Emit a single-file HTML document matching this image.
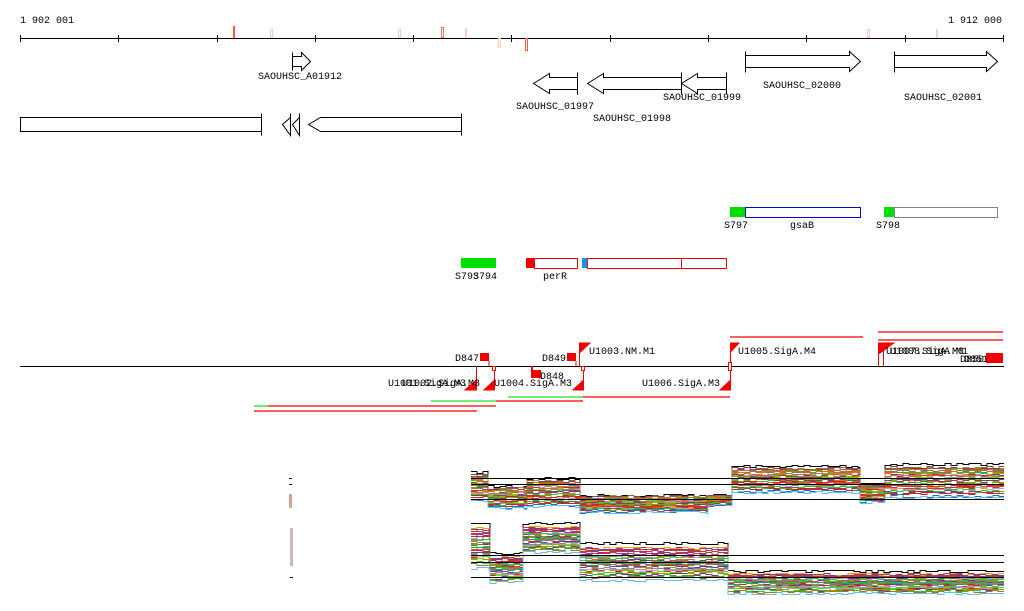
<!DOCTYPE html>
<html><head><meta charset="utf-8"><style>
html,body{margin:0;padding:0;background:#fff;}
svg{display:block;}
text{font-family:"Liberation Mono","DejaVu Sans Mono",monospace;font-size:10px;fill:#000;}
</style></head><body>
<svg id="s" width="1024" height="611" viewBox="0 0 1024 611" xmlns="http://www.w3.org/2000/svg">
<text x="20" y="23">1 902 001</text>
<text x="1002" y="23" text-anchor="end">1 912 000</text>
<line x1="20" y1="38.5" x2="1004" y2="38.5" stroke="#000" stroke-width="1"/>
<g stroke="#000" stroke-width="1">
<line x1="20.5" y1="35" x2="20.5" y2="42"/><line x1="118.5" y1="35" x2="118.5" y2="42"/><line x1="217.5" y1="35" x2="217.5" y2="42"/><line x1="315.5" y1="35" x2="315.5" y2="42"/><line x1="413.5" y1="35" x2="413.5" y2="42"/><line x1="511.5" y1="35" x2="511.5" y2="42"/><line x1="610.5" y1="35" x2="610.5" y2="42"/><line x1="708.5" y1="35" x2="708.5" y2="42"/><line x1="806.5" y1="35" x2="806.5" y2="42"/><line x1="905.5" y1="35" x2="905.5" y2="42"/><line x1="1003.5" y1="35" x2="1003.5" y2="42"/>
</g>
<rect x="233" y="26" width="2" height="12" fill="#f06040"/>
<rect x="270.5" y="29.5" width="2" height="8" fill="none" stroke="#f8c8b0"/>
<rect x="398.5" y="29.5" width="2" height="8" fill="none" stroke="#f8c8b0"/>
<rect x="441.5" y="27.5" width="2" height="10" fill="none" stroke="#e07060"/>
<rect x="465" y="28" width="2" height="10" fill="#f8d0c0"/>
<rect x="498.5" y="38.5" width="2" height="9" fill="none" stroke="#f8c8b0"/>
<rect x="525.5" y="38.5" width="2" height="12" fill="none" stroke="#f06040"/>
<rect x="867.5" y="29.5" width="2" height="8" fill="none" stroke="#f8c8b0"/>
<rect x="936" y="29" width="2" height="9" fill="#f8d0c0"/>

<g fill="#fff" stroke="#000" stroke-width="1">
<path d="M292.5 52.5 V70.5 M292.5 56.5 H301.5 V52.5 L310.5 61.5 L301.5 70.5 V66.5 H292.5"/>
<path d="M577.5 72.5 V94.5 M577.5 77.5 H549.5 V73.5 L533.5 83.5 L549.5 93.5 V89.5 H577.5"/>
<path d="M681.5 72.5 V94.5 M681.5 77.5 H603.5 V73.5 L587.5 83.5 L603.5 93.5 V89.5 H681.5"/>
<path d="M726.5 72.5 V94.5 M726.5 77.5 H697.5 V73.5 L681.5 83.5 L697.5 93.5 V89.5 H726.5"/>
<path d="M745.5 51.5 V72.5 M745.5 55.5 H849.5 V51.5 L860.5 61.5 L849.5 71.5 V67.5 H745.5"/>
<path d="M894.5 51.5 V72.5 M894.5 55.5 H986.5 V51.5 L997.5 61.5 L986.5 71.5 V67.5 H894.5"/>
<path d="M20.5 117.5 H261.5 V131.5 H20.5 Z M261.5 113.5 V135.5"/>
<path d="M290.5 113.5 V135.5 L282.5 124.5 L290.5 117.5 M299.5 113.5 V135.5 L292.5 124.5 L299.5 117.5"/>
<path d="M461.5 113.5 V135.5 M461.5 117.5 H320.5 L308.5 124.5 L320.5 131.5 H461.5"/>
</g>
<text x="300" y="79" text-anchor="middle">SAOUHSC_A01912</text>
<text x="555" y="109" text-anchor="middle">SAOUHSC_01997</text>
<text x="632" y="121" text-anchor="middle">SAOUHSC_01998</text>
<text x="702" y="100" text-anchor="middle">SAOUHSC_01999</text>
<text x="802" y="88" text-anchor="middle">SAOUHSC_02000</text>
<text x="943" y="100" text-anchor="middle">SAOUHSC_02001</text>

<rect x="730" y="207" width="15" height="10" fill="#00e000"/>
<rect x="745.5" y="207.5" width="115" height="10" fill="#fff" stroke="#0000e0"/>
<text x="724" y="228">S797</text><text x="802" y="228" text-anchor="middle">gsaB</text>
<rect x="884" y="207" width="10" height="10" fill="#00e000"/>
<rect x="894.5" y="207.5" width="103" height="10" fill="#fff" stroke="#808080"/>
<text x="876" y="228">S798</text>
<rect x="461" y="258" width="35" height="10" fill="#00e000"/>
<text x="455" y="279">S793</text><text x="473" y="279">S794</text>
<rect x="526" y="258" width="8" height="10" fill="#f00000"/>
<rect x="534.5" y="258.5" width="43" height="10" fill="#fff" stroke="#f00000"/>
<text x="555" y="279" text-anchor="middle">perR</text>
<rect x="582" y="258" width="5" height="10" fill="#1890f0"/>
<rect x="587.5" y="258.5" width="139" height="10" fill="#fff" stroke="#f00000"/>
<line x1="681.5" y1="258" x2="681.5" y2="268" stroke="#f00000"/>

<line x1="20" y1="366.5" x2="1004" y2="366.5" stroke="#000"/>
<g stroke="#f00000" stroke-width="1.3">
<line x1="730" y1="337" x2="863" y2="337"/>
<line x1="878" y1="332" x2="1003" y2="332"/>
<line x1="878" y1="340" x2="1003" y2="340"/>
</g>
<g fill="#f00000" stroke="#f00000">
<rect x="480" y="353" width="9" height="8" stroke="none"/><line x1="489" y1="361" x2="489" y2="366"/>
<rect x="567" y="353" width="9" height="8" stroke="none"/><line x1="576" y1="361" x2="576" y2="366"/>
<rect x="531" y="370" width="10" height="8" stroke="none"/><rect x="531" y="366" width="2" height="6" stroke="none"/>
<line x1="579.5" y1="343" x2="579.5" y2="366"/><path d="M579.5 343 H590 L579.5 353Z"/>
<line x1="730.5" y1="343" x2="730.5" y2="366"/><path d="M730.5 343 H739 L730.5 352Z"/>
<line x1="878.5" y1="343" x2="878.5" y2="366"/><line x1="883.5" y1="343" x2="883.5" y2="366"/><path d="M878.5 343 H894 L878.5 354Z"/>
<rect x="986" y="353" width="17" height="10" stroke="none"/>
<line x1="476.5" y1="366" x2="476.5" y2="390"/><path d="M465 390 H476.5 V380Z"/>
<line x1="494.5" y1="366" x2="494.5" y2="390"/><path d="M484 390 H494.5 V380Z"/>
<line x1="583.5" y1="366" x2="583.5" y2="390"/><path d="M573 390 H583.5 V380Z"/>
<line x1="730.5" y1="366" x2="730.5" y2="390"/><path d="M720 390 H730.5 V380Z"/>
</g>
<rect x="492.5" y="366.5" width="3" height="4" fill="#fff" stroke="#f00000"/>
<rect x="581.5" y="366.5" width="3" height="4" fill="#fff" stroke="#f00000"/>
<rect x="728.5" y="362.5" width="3" height="8" fill="#fff" stroke="#f00000"/>
<text x="479" y="361" text-anchor="end">D847</text>
<text x="566" y="361" text-anchor="end">D849</text>
<text x="540" y="379">D848</text>
<text x="589" y="354">U1003.NM.M1</text>
<text x="738" y="354">U1005.SigA.M4</text>
<text x="886" y="354">U1007.SigA.M3</text>
<text x="890" y="354">U1008.SigA.M1</text>
<text x="960" y="362">D850</text><text x="964" y="362">D851</text>
<text x="388" y="386">U1001.SigA.M3</text>
<text x="402" y="386">U1002.SigA.M3</text>
<text x="494" y="386">U1004.SigA.M3</text>
<text x="642" y="386">U1006.SigA.M3</text>
<g stroke-width="1.3">
<line x1="508" y1="397" x2="583" y2="397" stroke="#20e020"/><line x1="583" y1="397" x2="730" y2="397" stroke="#f00000"/>
<line x1="431" y1="401" x2="496" y2="401" stroke="#20e020"/><line x1="496" y1="401" x2="583" y2="401" stroke="#f00000"/>
<line x1="254" y1="406" x2="268" y2="406" stroke="#20e020"/><line x1="268" y1="406" x2="496" y2="406" stroke="#f00000"/>
<line x1="254" y1="411" x2="477" y2="411" stroke="#f00000"/>
</g>

<g><rect x="289" y="478" width="3" height="1" fill="#000"/><rect x="289" y="484" width="3" height="1" fill="#000"/><rect x="289" y="494" width="3" height="14" fill="#c08060" opacity="0.7"/><rect x="290" y="528" width="3" height="38" fill="#b080a0" opacity="0.6"/><rect x="290" y="577" width="3" height="1" fill="#000"/></g>

<g id="expr" fill="none" stroke-width="1"></g>
<g stroke="#000"><line x1="471" y1="478.5" x2="1004" y2="478.5"/><line x1="471" y1="484.5" x2="1004" y2="484.5"/><line x1="471" y1="499.5" x2="1004" y2="499.5"/>
<line x1="471" y1="555.5" x2="1004" y2="555.5"/><line x1="471" y1="562.5" x2="1004" y2="562.5"/><line x1="471" y1="577.5" x2="1004" y2="577.5"/></g>
</svg>
<script>
(function(){
var seed=7;function r(){seed=(seed*16807)%2147483647;return (seed-1)/2147483646;}
var cols=["#e8702a","#6a3d9a","#33c02c","#b8860b","#1f78b4","#e31a1c","#a6761d","#8b3a62","#c05020","#999933","#d02090","#66cc00","#cc6633","#7f3f98","#ff9900","#996633","#339966","#cc3333","#888888","#b0a0d0"];
var top=[[471,488,472,500],[488,527,486,508],[527,580,478,506],[580,708,495,512],[708,732,495,505],[732,860,466,492],[860,885,483,502],[885,1004,464,497]];
var bot=[[471,490,522,568],[490,523,553,582],[523,580,523,552],[580,728,543,580],[728,1004,571,593]];
var g=document.getElementById("expr"),NS="http://www.w3.org/2000/svg";
function panel(segs,n){
 for(var i=0;i<n;i++){
  var f=i/(n-1);var pts=[];var col=(i==0)?"#000":(i==n-1?"#66bbee":cols[Math.floor(r()*cols.length)]);
  var ff=(i==0||i==n-1)?f:Math.min(1,Math.max(0,f*0.85+r()*0.15));
  for(var s=0;s<segs.length;s++){
   var sg=segs[s];var base=sg[2]+(sg[3]-sg[2])*ff;
   for(var x=sg[0];x<sg[1];x+=6){
    var y=Math.round(base+(r()-0.5)*3)+0.5;var x2=Math.min(x+6,sg[1]);
    pts.push(x+","+y,x2+","+y);
   }
  }
  var p=document.createElementNS(NS,"polyline");p.setAttribute("points",pts.join(" "));p.setAttribute("stroke",col);g.appendChild(p);
 }
}
panel(top,32);panel(bot,32);
})();
</script>
</body></html>
